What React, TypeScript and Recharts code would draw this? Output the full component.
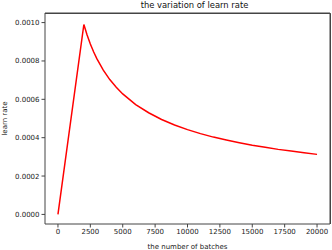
import { LineChart, Line, XAxis, YAxis, Label } from 'recharts'

const batches = [
  0, 2000, 2250, 2500, 2750, 3000, 3500, 4000, 4500, 5000, 6000, 7000, 8000, 9000, 10000,
  11000, 12000, 13000, 14000, 15000, 16000, 17000, 18000, 19000, 20000,
]
const learnRates = [
  0, 0.00099, 0.000935, 0.000888, 0.000848, 0.000812, 0.000752, 0.000703, 0.000663, 0.000628,
  0.000572, 0.00053, 0.000495, 0.000466, 0.000442, 0.000421, 0.000403, 0.000388, 0.000374,
  0.000361, 0.00035, 0.000339, 0.00033, 0.000321, 0.000313,
]
const xTicks = [0, 2500, 5000, 7500, 10000, 12500, 15000, 17500, 20000]
const yTicks = [0, 0.0002, 0.0004, 0.0006, 0.0008, 0.001]
const xDomain = [-1000, 21000]
const yDomain = [-0.00005, 0.00105]

const data = batches.map((b, i) => ({ batch: b, lr: learnRates[i] }))

const font = 'DejaVu Sans, sans-serif'
const axisColor = '#444'

export default function App() {
  return (
    <div style={{ position: 'absolute', left: 0, top: 0, width: 332, height: 250, background: '#fff' }}>
      <LineChart width={332} height={250} data={data} margin={{ top: 12, right: 1, bottom: 0, left: 0 }}>
        <XAxis
          dataKey="batch"
          type="number"
          domain={xDomain}
          ticks={xTicks}
          allowDataOverflow
          height={26}
          tickSize={3.5}
          tickMargin={2}
          stroke={axisColor}
          tick={{ fontSize: 7, fill: '#222', fontFamily: font }}
        >
          <Label value="the number of batches" position="insideBottom" offset={1} style={{ fontSize: 7, fill: '#222', fontFamily: font }} />
        </XAxis>
        <XAxis xAxisId="top" orientation="top" type="number" dataKey="batch" domain={xDomain} height={1} tick={false} tickLine={false} stroke={axisColor} />
        <YAxis
          type="number"
          domain={yDomain}
          ticks={yTicks}
          allowDataOverflow
          width={45}
          tickSize={3.5}
          tickMargin={2}
          stroke={axisColor}
          tickFormatter={(v: number) => v.toFixed(4)}
          tick={{ fontSize: 7, fill: '#222', fontFamily: font }}
        >
          <Label value="learn rate" angle={-90} position="insideLeft" offset={5} style={{ fontSize: 7, fill: '#222', fontFamily: font, textAnchor: 'middle' }} />
        </YAxis>
        <YAxis yAxisId="right" orientation="right" type="number" domain={yDomain} width={1} tick={false} tickLine={false} stroke={axisColor} />
        {/* top and right spines of the axes box */}
        <path d="M45 13.5 H330.5 V224" fill="none" stroke={axisColor} strokeWidth={1} />
        <Line dataKey="lr" stroke="#ff0000" strokeWidth={1.5} dot={false} isAnimationActive={false} />
      </LineChart>
      <div
        style={{
          position: 'absolute',
          left: 0,
          width: 389,
          top: 0,
          textAlign: 'center',
          fontFamily: font,
          fontSize: 8.4,
          lineHeight: '11px',
          color: '#111',
        }}
      >
        the variation of learn rate
      </div>
    </div>
  )
}
